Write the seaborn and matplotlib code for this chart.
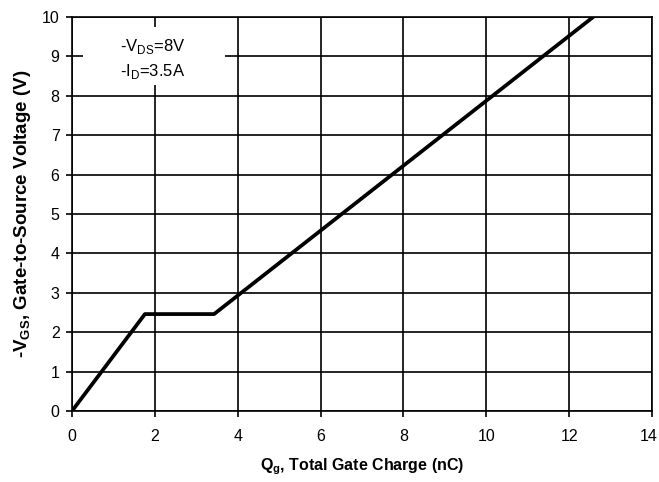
import matplotlib
matplotlib.use("Agg")
import matplotlib.pyplot as plt
import matplotlib.transforms as mtransforms
from matplotlib.patches import Rectangle
import seaborn as sns
import pandas as pd

# Data
gate_charge_nC = [0.0, 1.76, 3.43, 12.58]
vgs_volts = [0.0, 2.46, 2.46, 10.0]
x_ticks = [0, 2, 4, 6, 8, 10, 12, 14]
y_ticks = [0, 1, 2, 3, 4, 5, 6, 7, 8, 9, 10]

df = pd.DataFrame({"Qg": gate_charge_nC, "VGS": vgs_volts})

sns.set_theme(style="ticks")
plt.rcParams["font.family"] = ["Liberation Sans", "DejaVu Sans"]
plt.rcParams["mathtext.fontset"] = "custom"
plt.rcParams["mathtext.rm"] = "Liberation Sans"
plt.rcParams["mathtext.bf"] = "Liberation Sans:bold"
plt.rcParams["text.color"] = "black"
plt.rcParams["axes.labelcolor"] = "black"

fig = plt.figure(figsize=(6.59, 4.82), dpi=100)
ax = fig.add_axes([72 / 659, 1 - 411 / 482, 580 / 659, 394 / 482])

sns.lineplot(data=df, x="Qg", y="VGS", ax=ax, color="black", linewidth=2.7,
             sort=False, estimator=None, zorder=5)

ax.set_xlim(0, 14)
ax.set_ylim(0, 10)
ax.set_xticks(x_ticks)
ax.set_yticks(y_ticks)
ax.tick_params(axis="both", direction="out", length=4, width=1.2, color="black",
               labelsize=11.5, labelcolor="black")
ax.tick_params(axis="x", pad=9)
ax.tick_params(axis="y", pad=5)
ax.grid(True, color="black", linewidth=1.2)
ax.set_axisbelow(True)
for s in ax.spines.values():
    s.set_color("black")
    s.set_linewidth(1.2)

# keep the last x tick label inside the canvas
last = ax.get_xticklabels()[-1]
last.set_transform(last.get_transform() +
                   mtransforms.ScaledTranslation(-3 / 100, 0, fig.dpi_scale_trans))

ax.set_xlabel(r"Q$_{\mathbf{g}}$, Total Gate Charge (nC)", fontsize=11.5,
              fontweight="bold", labelpad=9)
ax.set_ylabel(r"-V$_{\mathbf{GS}}$, Gate-to-Source Voltage (V)", fontsize=13.5,
              fontweight="bold", labelpad=6)

# white background patch behind the condition note
ax.add_patch(Rectangle((0.27, 8.27), 3.42, 1.48, facecolor="white",
                       edgecolor="none", zorder=4))
ax.text(1.95, 8.93, "-V$_{\\mathrm{DS}}$=8V\n-I$_{\\mathrm{D}}$=3.5A", fontsize=12,
        ha="center", va="center", linespacing=1.4, zorder=6)

fig.savefig("out.png", dpi=100)
